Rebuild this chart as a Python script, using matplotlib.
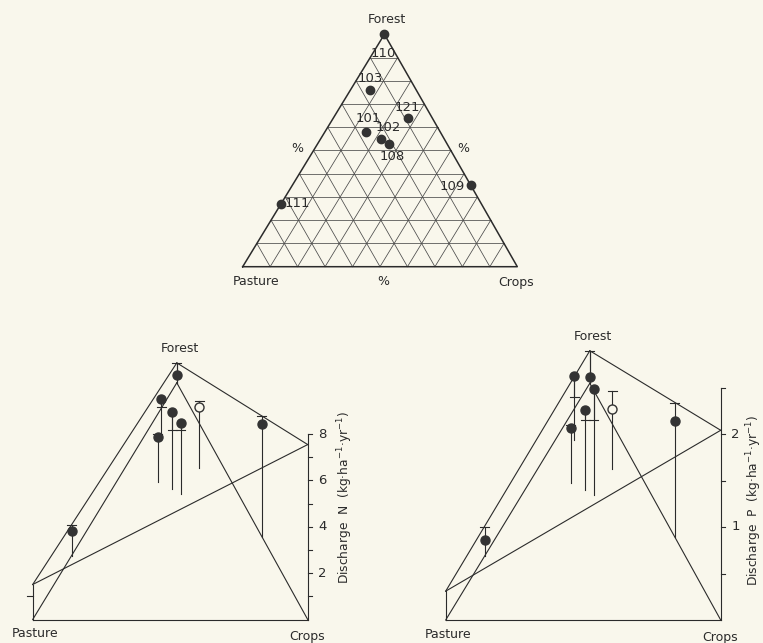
import numpy as np
import matplotlib.pyplot as plt

plt.rcParams["font.family"] = "DejaVu Sans"
plt.rcParams["mathtext.default"] = "regular"

# land use of each catchment (%)
sites = ["101", "102", "103", "108", "109", "110", "111", "121"]
forest = [58, 55, 76, 53, 35, 100, 27, 64]
crops = [15, 22, 7, 26, 65, 0, 0, 27]
pasture = [27, 23, 17, 21, 0, 0, 73, 9]
hollow = ["121"]

# discharge (kg/ha/yr) and the end of each error bar
n_discharge = [1.94, 3.32, 1.76, 3.06, 4.86, 0.33, 1.07, 2.64]
n_bar_end = [2.08, 2.57, 1.41, 2.77, 5.19, 0.86, 1.33, 2.88]
p_discharge = [0.59, 0.86, 0.69, 1.13, 1.25, 0.07, 0.17, 0.64]
p_bar_end = [0.62, 0.75, 0.46, 0.80, 1.44, 0.35, 0.31, 0.83]

# fitted plane at the pure land-use corners (pasture, forest, crops)
n_plane = [1.51, 0.86, 7.55]
p_plane = [0.31, 0.35, 2.04]
n_pasture_bar = 1.0

n_ticks = [2, 4, 6, 8]
p_ticks = [1, 2]

BG = "#f9f7ec"
INK = "#2b2b2b"
W, H = 763, 643

fig = plt.figure(figsize=(W / 100, H / 100), dpi=100, facecolor=BG)


def px_axes(x0, y_top, w, h):
    ax = fig.add_axes([x0 / W, 1 - (y_top + h) / H, w / W, h / H])
    ax.set_axis_off()
    ax.patch.set_alpha(0)
    return ax


def label(ax, text, xy, dx, dy, **kw):
    kw.setdefault("fontsize", 9)
    ax.annotate(text, xy, xytext=(dx, dy), textcoords="offset pixels",
                ha="center", va="center", color=INK,
                annotation_clip=False, **kw)


# ---- ternary diagram of land use ----
APEX_X = 0.516
ax = px_axes(242.7, 34.3, 274.6, 232.4)
ax.set_xlim(0, 1)
ax.set_ylim(0, 1)


def tern(f, c):
    return c / 100 + APEX_X * f / 100, f / 100


for k in range(1, 10):
    t = 10 * k
    for a, b in [(tern(t, 0), tern(t, 100 - t)),
                 (tern(0, t), tern(100 - t, t)),
                 (tern(0, 100 - t), tern(100 - t, 0))]:
        ax.plot([a[0], b[0]], [a[1], b[1]], color="#4a4a4a", lw=0.55,
                clip_on=False)

corners = [tern(0, 0), tern(0, 100), tern(100, 0), tern(0, 0)]
ax.plot([c[0] for c in corners], [c[1] for c in corners], color=INK, lw=1.1,
        clip_on=False)

label_offsets = {"101": (2, 13), "102": (7, 11), "103": (1, 12),
                 "108": (3, -13), "109": (-19, -1), "110": (-1, -19),
                 "111": (16, 0), "121": (0, 10)}
for s, f, c in zip(sites, forest, crops):
    x, y = tern(f, c)
    ax.plot(x, y, "o", ms=6, color="#333333", clip_on=False, zorder=3)
    label(ax, s, (x, y), *label_offsets[s], fontsize=9.5)

label(ax, "Forest", tern(100, 0), 2, 15)
label(ax, "Pasture", tern(0, 0), 13, -15)
label(ax, "Crops", tern(0, 100), -1, -16)
label(ax, "%", tern(50, 0), -16, 2)
label(ax, "%", tern(50, 50), 12, 2)
label(ax, "%", (0.5, 0), 3, -15)


# ---- discharge over the land-use triangle ----
PANEL_W = 275
F_X = 0.524
F_RISE = 236.7


def discharge_panel(x0, base_y, ppu, ylim, values, bar_end, plane, ticks,
                    step, title, title_y, title_dx):
    ax = px_axes(x0, base_y - ylim * ppu, PANEL_W, ylim * ppu)
    ax.set_xlim(0, 1)
    ax.set_ylim(0, ylim)
    kw = dict(color=INK, lw=0.8, clip_on=False)

    def base(f, c):
        return c / 100 + F_X * f / 100, F_RISE / ppu * f / 100

    pb, fb, cb = base(0, 0), base(100, 0), base(0, 100)
    pt = (pb[0], pb[1] + plane[0])
    ft = (fb[0], fb[1] + plane[1])
    ct = (cb[0], cb[1] + plane[2])
    for a, b in [(pb, cb), (pb, fb), (fb, cb), (pt, ft), (ft, ct), (pt, ct),
                 (pb, pt), (fb, ft)]:
        ax.plot([a[0], b[0]], [a[1], b[1]], **kw)

    # value axis at the crops corner
    top = max(ticks) if step == 1 else max(ticks) + step
    ax.plot([1, 1], [0, top], **kw)
    tick_len = 4 / PANEL_W
    for v in np.arange(step, top + 1e-9, step):
        ax.plot([1, 1 + tick_len], [v, v], **kw)
    for v in ticks:
        label(ax, f"{v}", (1, v), 15, 0, fontsize=9.5)
    label(ax, title, (1, title_y), title_dx, 0, rotation=90, fontsize=8.8)

    cap = 4.5 / PANEL_W
    for s, f, c, v, e in zip(sites, forest, crops, values, bar_end):
        bx, by = base(f, c)
        ax.plot([bx, bx], [by, by + v], **kw)
        ax.plot([bx, bx], [by + v, by + e], **kw)
        ax.plot([bx - cap, bx + cap], [by + e, by + e], **kw)
        face = BG if s in hollow else "#333333"
        ax.plot(bx, by + v, "o", ms=6.5, mfc=face, mec="#333333", mew=1.0,
                clip_on=False, zorder=3)

    label(ax, "Forest", ft, 3, 14)
    label(ax, "Pasture", pb, 2, -14)
    label(ax, "Crops", cb, -1, -17)
    return ax


ax_n = discharge_panel(32.7, 619.5, 23.17, 11.5, n_discharge, n_bar_end,
                       n_plane, n_ticks, 1,
                       "Discharge  N  (kg·ha$^{-1}$·yr$^{-1}$)", 5.29, 37)
ax_n.plot([-6 / PANEL_W, 0], [n_pasture_bar, n_pasture_bar], color=INK,
          lw=0.8, clip_on=False)

discharge_panel(445.7, 620, 93, 3.0, p_discharge, p_bar_end, p_plane,
                p_ticks, 0.5, "Discharge  P  (kg·ha$^{-1}$·yr$^{-1}$)", 1.29,
                33)

fig.savefig("out.png", dpi=100, facecolor=BG)
